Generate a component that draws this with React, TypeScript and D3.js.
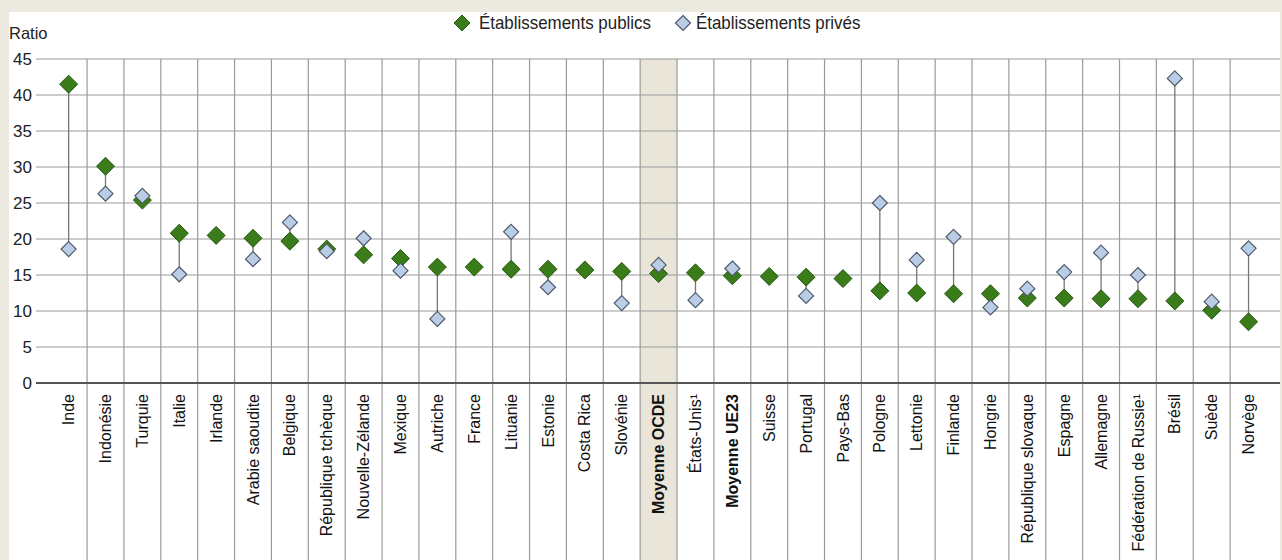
import React from "react";
import * as d3 from "d3";

const categories = [
  "Inde", "Indonésie", "Turquie", "Italie", "Irlande", "Arabie saoudite", "Belgique",
  "République tchèque", "Nouvelle-Zélande", "Mexique", "Autriche", "France", "Lituanie",
  "Estonie", "Costa Rica", "Slovénie", "Moyenne OCDE", "États-Unis¹", "Moyenne UE23",
  "Suisse", "Portugal", "Pays-Bas", "Pologne", "Lettonie", "Finlande", "Hongrie",
  "République slovaque", "Espagne", "Allemagne", "Fédération de Russie¹", "Brésil", "Suède", "Norvège",
];

const publicValues: (number | null)[] = [
  41.5, 30.1, 25.4, 20.8, 20.5, 20.1, 19.7, 18.6, 17.8, 17.3, 16.1, 16.1, 15.8,
  15.8, 15.7, 15.5, 15.2, 15.3, 14.9, 14.8, 14.7, 14.5, 12.8, 12.5, 12.4, 12.4,
  11.8, 11.8, 11.7, 11.7, 11.4, 10.1, 8.5,
];

const privateValues: (number | null)[] = [
  18.6, 26.3, 26.0, 15.1, null, 17.2, 22.3, 18.3, 20.1, 15.6, 8.9, null, 21.0,
  13.3, null, 11.1, 16.4, 11.5, 15.9, null, 12.1, null, 25.0, 17.1, 20.3, 10.5,
  13.1, 15.4, 18.1, 15.0, 42.3, 11.3, 18.7,
];

const yTicks = [0, 5, 10, 15, 20, 25, 30, 35, 40, 45];
const boldCategories = ["Moyenne OCDE", "Moyenne UE23"];
const highlighted = "Moyenne OCDE";
const legendLabels = ["Établissements publics", "Établissements privés"];
const yAxisTitle = "Ratio";

const W = 1282;
const H = 560;
const FONT = "'Liberation Sans', Arial, sans-serif";
const GREEN = "#3b7c1a";
const GREEN_STROKE = "#275912";
const BLUE = "#b9cde6";
const BLUE_STROKE = "#4f5a6a";
const GRID = "#9a9a9a";

function diamond(cx: number, cy: number, r: number) {
  return `M${cx},${cy - r}L${cx + r},${cy}L${cx},${cy + r}L${cx - r},${cy}Z`;
}

export default function App() {
  const plotLeft = 36;
  const plotRight = 1280;
  const plotTop = 59;
  const plotBottom = 383;

  const x = d3.scaleBand<string>().domain(categories).range([50.2, 1267]).padding(0);
  const y = d3.scaleLinear().domain([0, 45]).range([plotBottom, plotTop]);
  const bw = x.bandwidth();

  const boundaries = categories.slice(1).map((c) => x(c) as number);

  return (
    <svg width={W} height={H} style={{ display: "block", position: "absolute", left: 0, top: 0 }}>
      <rect x={0} y={0} width={W} height={H} fill="#ece9df" />
      <rect x={9} y={12} width={plotRight - 9} height={H - 12} fill="#ffffff" />

      {/* highlighted column */}
      <rect x={x(highlighted)} y={plotTop} width={bw} height={H - plotTop} fill="#e9e5d8" />

      {/* horizontal gridlines */}
      {yTicks.filter((t) => t !== 0).map((t) => (
        <line key={t} x1={plotLeft} x2={plotRight} y1={y(t)} y2={y(t)} stroke={GRID} strokeWidth={1.2} />
      ))}
      {/* vertical gridlines */}
      {boundaries.map((b, i) => (
        <line key={i} x1={b} x2={b} y1={plotTop} y2={H} stroke={GRID} strokeWidth={1.2} />
      ))}
      {/* zero axis */}
      <line x1={plotLeft} x2={plotRight} y1={y(0)} y2={y(0)} stroke="#555" strokeWidth={2} />

      {/* y tick labels */}
      {yTicks.map((t) => (
        <text key={t} x={32} y={y(t)} dy="0.36em" textAnchor="end" fontFamily={FONT} fontSize={17} fill="#222">
          {t}
        </text>
      ))}
      <text x={9} y={39} fontFamily={FONT} fontSize={16.5} fill="#222">{yAxisTitle}</text>

      {/* stems */}
      {categories.map((c, i) => {
        const p = publicValues[i];
        const q = privateValues[i];
        if (p == null || q == null) return null;
        const cx = (x(c) as number) + bw / 2;
        return <line key={c} x1={cx} x2={cx} y1={y(p)} y2={y(q)} stroke="#777" strokeWidth={1.3} />;
      })}

      {/* public markers */}
      {categories.map((c, i) => {
        const p = publicValues[i];
        if (p == null) return null;
        const cx = (x(c) as number) + bw / 2;
        return <path key={c} d={diamond(cx, y(p), 9)} fill={GREEN} stroke={GREEN_STROKE} strokeWidth={1} />;
      })}
      {/* private markers */}
      {categories.map((c, i) => {
        const q = privateValues[i];
        if (q == null) return null;
        const cx = (x(c) as number) + bw / 2;
        return <path key={c} d={diamond(cx, y(q), 7.5)} fill={BLUE} stroke={BLUE_STROKE} strokeWidth={1.2} />;
      })}

      {/* x labels */}
      {categories.map((c) => {
        const cx = (x(c) as number) + bw / 2;
        return (
          <text
            key={c}
            transform={`translate(${cx},394) rotate(-90)`}
            dy="0.35em"
            textAnchor="end"
            fontFamily={FONT}
            fontSize={16}
            fontWeight={boldCategories.includes(c) ? "bold" : "normal"}
            fill="#111"
          >
            {c}
          </text>
        );
      })}

      {/* legend */}
      <path d={diamond(462, 23, 8)} fill={GREEN} stroke={GREEN_STROKE} strokeWidth={1} />
      <text transform="translate(479,29) scale(0.94,1)" fontFamily={FONT} fontSize={18} fill="#222">{legendLabels[0]}</text>
      <path d={diamond(683, 23, 7.5)} fill={BLUE} stroke={BLUE_STROKE} strokeWidth={1.2} />
      <text transform="translate(696,29) scale(0.94,1)" fontFamily={FONT} fontSize={18} fill="#222">{legendLabels[1]}</text>
    </svg>
  );
}
